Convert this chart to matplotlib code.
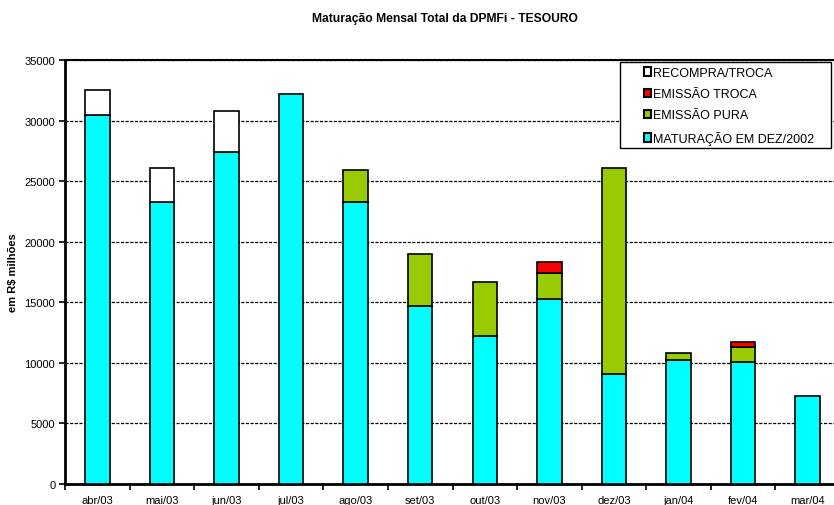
import numpy as np
import matplotlib
matplotlib.use("Agg")
import matplotlib.pyplot as plt
from matplotlib.patches import Patch, Rectangle

plt.rcParams['font.family'] = ['Liberation Sans', 'DejaVu Sans']

months = ['abr/03', 'mai/03', 'jun/03', 'jul/03', 'ago/03', 'set/03',
          'out/03', 'nov/03', 'dez/03', 'jan/04', 'fev/04', 'mar/04']
maturacao = [30500, 23300, 27400, 32200, 23300, 14700, 12200, 15300, 9100, 10250, 10100, 7250]
emissao_pura = [0, 0, 0, 0, 2600, 4300, 4500, 2150, 17000, 550, 1250, 0]
emissao_troca = [0, 0, 0, 0, 0, 0, 0, 850, 0, 0, 400, 0]
recompra = [2000, 2800, 3400, 0, 0, 0, 0, 0, 0, 0, 0, 0]

series = [
    ('MATURAÇÃO EM DEZ/2002', maturacao, '#00ffff'),
    ('EMISSÃO PURA', emissao_pura, '#99cc00'),
    ('EMISSÃO TROCA', emissao_troca, '#ff0000'),
    ('RECOMPRA/TROCA', recompra, '#ffffff'),
]

fig = plt.figure(figsize=(8.34, 5.06), dpi=100)
ax = fig.add_axes([65 / 834, 1 - 485 / 506, 775 / 834, 424 / 506])

x = np.arange(len(months))
bottom = np.zeros(len(months))
for name, vals, col in series:
    vals = np.array(vals, dtype=float)
    mask = vals > 0
    ax.bar(x[mask], vals[mask], 0.38, bottom=bottom[mask], color=col,
           edgecolor='black', linewidth=1.2, zorder=3)
    bottom += vals

ax.set_xlim(-0.5, len(months) - 0.5)
ax.set_ylim(0, 35000)
ax.set_yticks(np.arange(0, 35001, 5000))
ax.set_yticklabels([str(v) for v in range(0, 35001, 5000)], fontsize=8)
ax.yaxis.grid(True, color='black', linestyle=(0, (2.5, 1.2)), linewidth=0.9, zorder=1)

# category labels between boundary ticks
ax.set_xticks(np.arange(-0.5, len(months), 1.0))
ax.set_xticklabels([])
ax.set_xticks(x, minor=True)
ax.set_xticklabels(months, minor=True, fontsize=8)
ax.tick_params(axis='x', which='minor', length=0, pad=8)
ax.tick_params(axis='x', which='major', length=4, width=1.2, direction='out')
ax.tick_params(axis='y', length=4, width=1.2, direction='out', pad=3)

for side in ['left', 'bottom']:
    ax.spines[side].set_linewidth(2)
ax.spines['top'].set_linewidth(1.5)
ax.spines['right'].set_visible(False)

ax.set_ylabel('em R$ milhões', fontsize=8, fontweight='bold')
ax.yaxis.set_label_coords((18 - 65) / 775, 0.5)

fig.text(445 / 834, 1 - 19 / 506, 'Maturação Mensal Total da DPMFi - TESOURO',
         ha='center', va='center', fontsize=8.7, fontweight='bold')

# legend with a hand-placed frame
fig.patches.append(Rectangle((620 / 834, 1 - 149 / 506), 211 / 834, 86 / 506,
                             transform=fig.transFigure, facecolor='white',
                             edgecolor='black', linewidth=1.0, zorder=4))
handles = [Patch(facecolor=col, edgecolor='black', linewidth=1.5, label=name)
           for name, vals, col in series[::-1]]
leg = fig.legend(handles=handles, loc='upper left',
                 bbox_to_anchor=(640 / 834, 1 - 64 / 506),
                 fontsize=9, frameon=False,
                 handlelength=0.6, handleheight=0.65, handletextpad=0.15,
                 borderpad=0.3, labelspacing=0.75, borderaxespad=0)
leg.set_zorder(5)

fig.savefig('out.png', dpi=100)
